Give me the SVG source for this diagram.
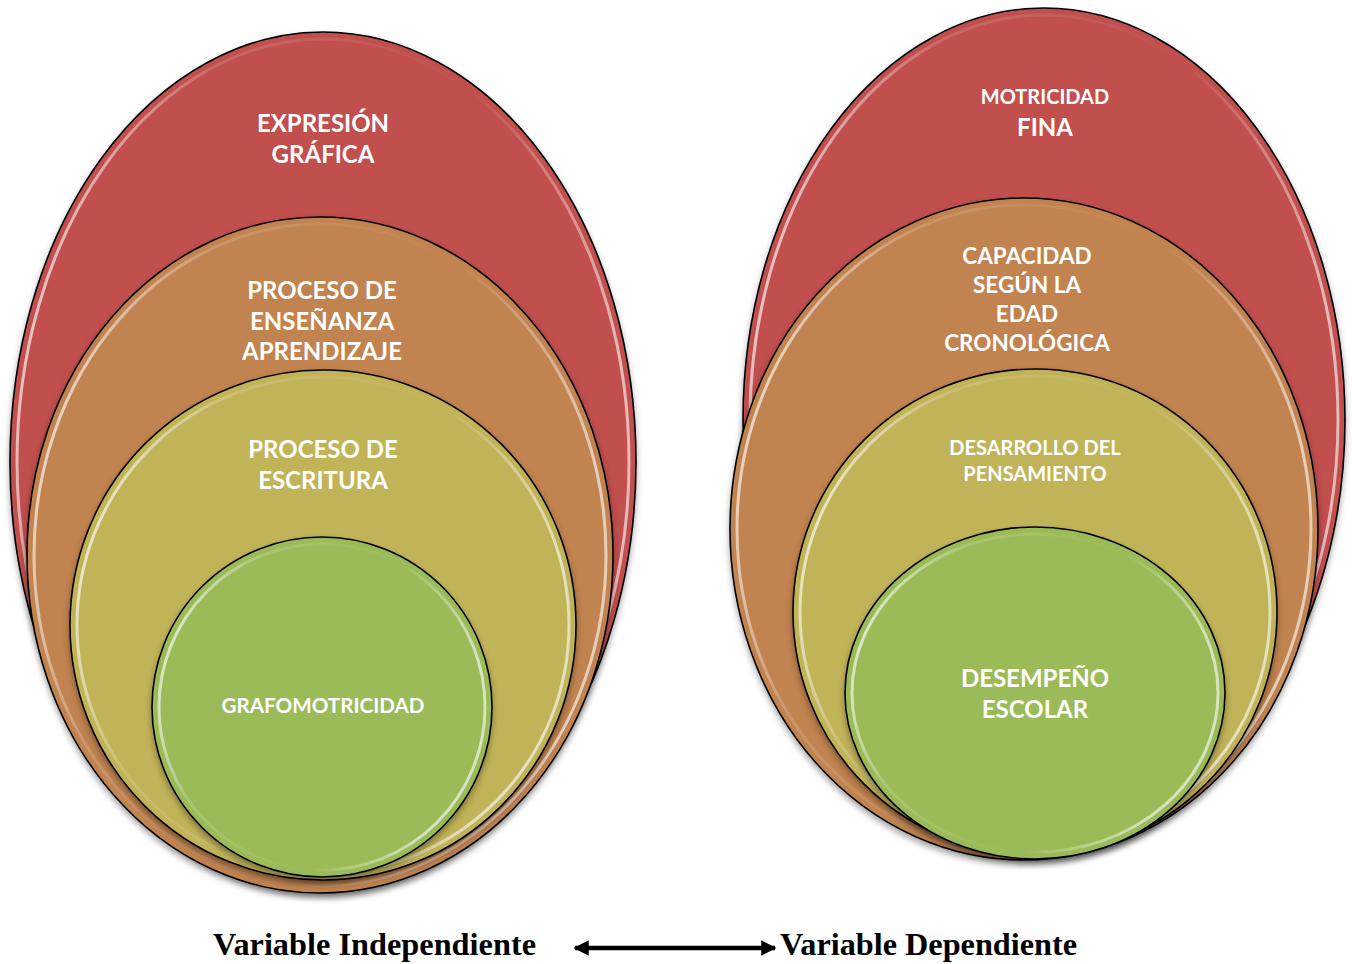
<svg xmlns="http://www.w3.org/2000/svg" width="1352" height="964" viewBox="0 0 1352 964">
<defs>
<filter id="sh" x="-10%" y="-10%" width="120%" height="125%">
<feDropShadow dx="0" dy="4" stdDeviation="3" flood-color="#000" flood-opacity="0.35"/>
</filter>
<linearGradient id="hl" x1="0" y1="0" x2="1" y2="0.3">
<stop offset="0" stop-color="#fff" stop-opacity="0.95"/>
<stop offset="0.3" stop-color="#fff" stop-opacity="0.15"/>
<stop offset="0.7" stop-color="#fff" stop-opacity="0"/>
<stop offset="1" stop-color="#fff" stop-opacity="0.6"/>
</linearGradient>
<marker id="ah" viewBox="0 0 10 10" refX="9" refY="5" markerWidth="3.6" markerHeight="3.4" orient="auto-start-reverse">
<path d="M0,0 L10,5 L0,10 Z" fill="#000"/>
</marker>
</defs>
<style>
.o{stroke:#000;stroke-width:1.6;filter:url(#sh)}
.h{fill:none;stroke:url(#hl);stroke-width:3}
.red{fill:#C0504D}
.ora{fill:#C1834F}
.yel{fill:#C1B359}
.grn{fill:#9BBB59}
.t{font-family:Lato,"Liberation Sans",sans-serif;font-weight:bold;fill:#fff;text-anchor:middle;font-size:24px}
.s{font-size:20px}
.m{font-size:22.5px}
.b{font-family:"Liberation Serif","Times New Roman",serif;font-weight:bold;font-size:32px;fill:#000}
</style>

<g id="left-expresion">
<ellipse class="o red" cx="323" cy="462" rx="313" ry="430"/>
<ellipse class="h" cx="323" cy="462" rx="306" ry="423"/>
<text class="t" x="323" y="132">EXPRESIÓN</text>
<text class="t" x="323" y="163">GRÁFICA</text>
</g>
<g id="left-proceso-ensenanza">
<ellipse class="o ora" cx="320" cy="555" rx="293" ry="338"/>
<ellipse class="h" cx="320" cy="555" rx="286" ry="331"/>
<text class="t" x="322" y="299">PROCESO DE</text>
<text class="t" x="322" y="330">ENSEÑANZA</text>
<text class="t" x="322" y="360">APRENDIZAJE</text>
</g>
<g id="left-proceso-escritura">
<ellipse class="o yel" cx="323" cy="625" rx="253" ry="255"/>
<ellipse class="h" cx="323" cy="625" rx="246" ry="248"/>
<text class="t" x="323" y="458">PROCESO DE</text>
<text class="t" x="323" y="489">ESCRITURA</text>
</g>
<g id="left-grafomotricidad">
<ellipse class="o grn" cx="322" cy="707" rx="170" ry="170"/>
<ellipse class="h" cx="322" cy="707" rx="163" ry="163"/>
<text class="t" x="323" y="713" style="font-size:20.6px">GRAFOMOTRICIDAD</text>
</g>

<g id="right-motricidad">
<ellipse class="o red" cx="1044" cy="420" rx="301" ry="412"/>
<ellipse class="h" cx="1044" cy="420" rx="294" ry="405"/>
<text class="t s" x="1045" y="104">MOTRICIDAD</text>
<text class="t" x="1045" y="136">FINA</text>
</g>
<g id="right-capacidad">
<ellipse class="o ora" cx="1024" cy="529" rx="294" ry="331"/>
<ellipse class="h" cx="1024" cy="529" rx="287" ry="324"/>
<text class="t m" x="1027" y="264">CAPACIDAD</text>
<text class="t m" x="1027" y="293">SEGÚN LA</text>
<text class="t m" x="1027" y="322">EDAD</text>
<text class="t m" x="1027" y="351">CRONOLÓGICA</text>
</g>
<g id="right-desarrollo">
<ellipse class="o yel" cx="1035" cy="612" rx="242" ry="243"/>
<ellipse class="h" cx="1035" cy="612" rx="235" ry="236"/>
<text class="t s" x="1035" y="455">DESARROLLO DEL</text>
<text class="t s" x="1035" y="481">PENSAMIENTO</text>
</g>
<g id="right-desempeno">
<ellipse class="o grn" cx="1035" cy="693" rx="190" ry="166"/>
<ellipse class="h" cx="1035" cy="693" rx="183" ry="159"/>
<text class="t" x="1035" y="687">DESEMPEÑO</text>
<text class="t" x="1035" y="718">ESCOLAR</text>
</g>

<g id="labels">
<text class="b" x="213" y="955" textLength="323" lengthAdjust="spacingAndGlyphs">Variable Independiente</text>
<text class="b" x="780" y="955" textLength="297" lengthAdjust="spacingAndGlyphs">Variable Dependiente</text>
</g>
<g id="connectors">
<line x1="575" y1="948" x2="775" y2="948" stroke="#000" stroke-width="4.5" marker-start="url(#ah)" marker-end="url(#ah)"/>
</g>
</svg>
